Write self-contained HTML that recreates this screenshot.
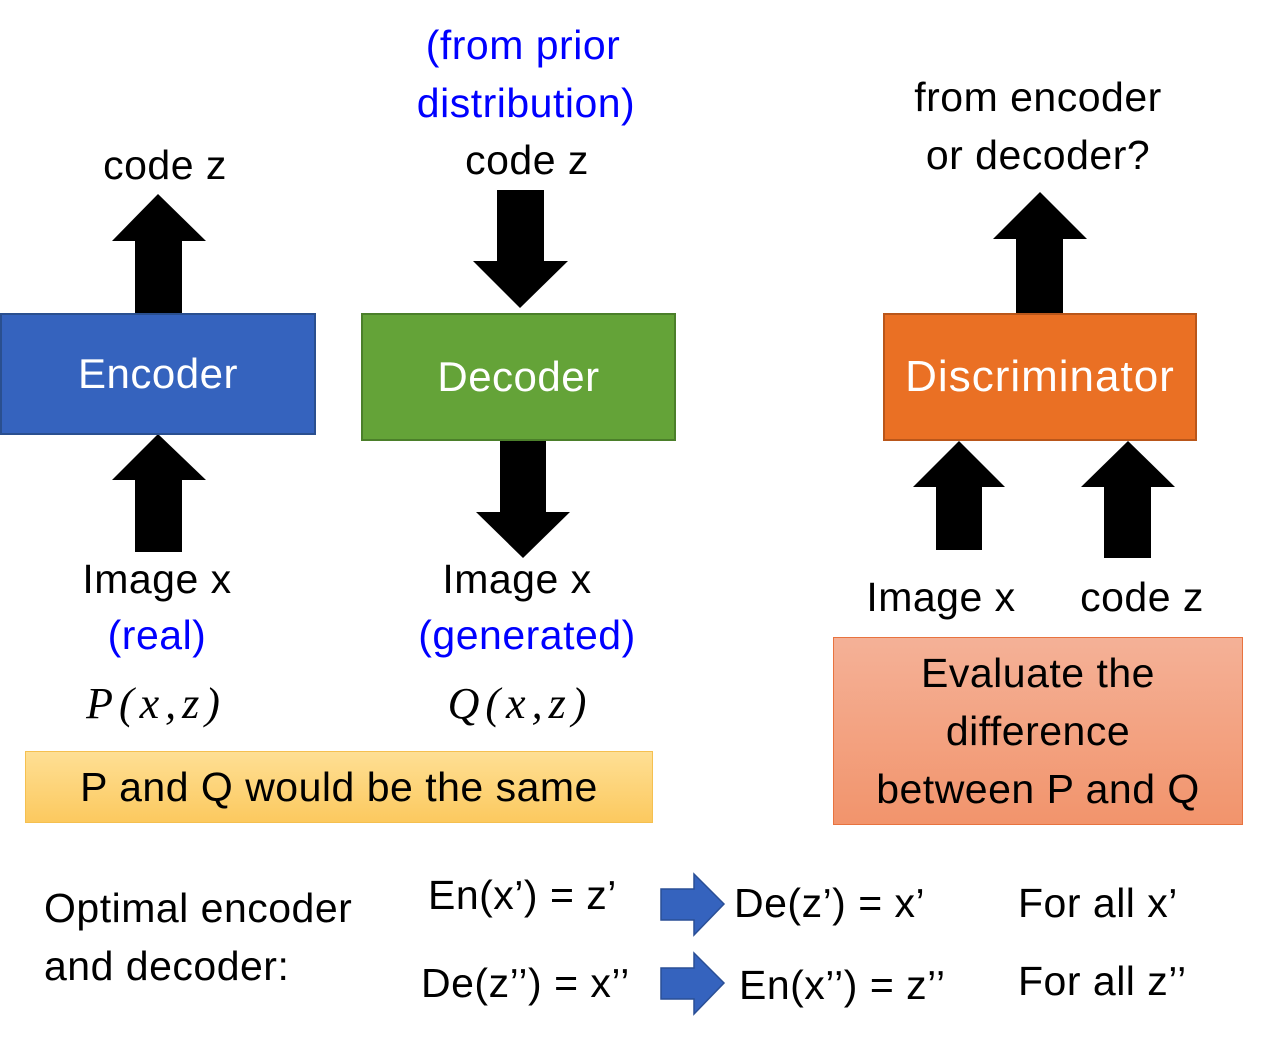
<!DOCTYPE html>
<html><head><meta charset="utf-8"><style>
body{margin:0;width:1284px;height:1042px;background:#fff;position:relative;overflow:hidden;font-family:"Liberation Sans",sans-serif;}
.t{position:absolute;white-space:nowrap;font-size:41px;color:#000;transform:translateX(-50%);line-height:1;letter-spacing:0.5px}
.l{transform:none}
.b{color:#0000ff}
.box{position:absolute;box-sizing:border-box;display:flex;align-items:center;justify-content:center;color:#fff;font-size:42px;letter-spacing:0.5px}
.m{font-family:"Liberation Serif",serif;font-style:italic;font-size:44px;letter-spacing:6px}
</style></head><body>
<svg width="1284" height="1042" style="position:absolute;left:0;top:0">
<g fill="#000">
<polygon points="158,194 206,241 182,241 182,313 135,313 135,241 112,241"/>
<polygon points="158,434 206,480 182,480 182,552 135,552 135,480 112,480"/>
<polygon points="497,190 544,190 544,261 568,261 520,308 473,261 497,261"/>
<polygon points="500,441 546,441 546,512 570,512 523,558 476,512 500,512"/>
<polygon points="1040,192 1087,239 1063,239 1063,313 1016,313 1016,239 993,239"/>
<polygon points="959,441 1005,487 982,487 982,550 936,550 936,487 913,487"/>
<polygon points="1128,441 1175,487 1151,487 1151,558 1104,558 1104,487 1081,487"/>
</g>
<g fill="#3563be" stroke="#2a4f96" stroke-width="1.5">
<polygon points="661,889 694,889 694,874 724,904 694,935 694,920 661,920"/>
<polygon points="661,968 694,968 694,953 724,983 694,1014 694,999 661,999"/>
</g>
</svg>
<div class="box" style="left:0;top:313px;width:316px;height:122px;background:#3563be;border:2px solid #2a4f8f">Encoder</div>
<div class="box" style="left:361px;top:313px;width:315px;height:128px;background:#64a338;border:2px solid #4b7f2a">Decoder</div>
<div class="box" style="left:883px;top:313px;width:314px;height:128px;background:#ea7024;border:2px solid #b9561a;font-size:44px;letter-spacing:1px">Discriminator</div>
<div class="box" style="left:25px;top:751px;width:628px;height:72px;background:linear-gradient(#fedf94,#fcc95f);border:1px solid #f5c050;color:#000;font-size:41px">P and Q would be the same</div>
<div class="box" style="left:833px;top:637px;width:410px;height:188px;background:linear-gradient(#f4b197,#f2946c);border:1px solid #e8733f;color:#000;font-size:41px;line-height:58px;text-align:center">Evaluate the<br>difference<br>between P and Q</div>
<div class="t" style="left:165px;top:145px">code z</div>
<div class="t b" style="left:523px;top:25px">(from prior</div>
<div class="t b" style="left:526px;top:83px">distribution)</div>
<div class="t" style="left:527px;top:140px">code z</div>
<div class="t" style="left:1038px;top:77px">from encoder</div>
<div class="t" style="left:1038px;top:135px">or decoder?</div>
<div class="t" style="left:157px;top:559px">Image x</div>
<div class="t b" style="left:157px;top:615px">(real)</div>
<div class="t m" style="left:156px;top:682px">P(x,z)</div>
<div class="t" style="left:517px;top:559px">Image x</div>
<div class="t b" style="left:527px;top:615px">(generated)</div>
<div class="t m" style="left:520px;top:682px">Q(x,z)</div>
<div class="t" style="left:941px;top:577px">Image x</div>
<div class="t" style="left:1142px;top:577px">code z</div>
<div class="t l" style="left:44px;top:888px">Optimal encoder</div>
<div class="t l" style="left:44px;top:946px">and decoder:</div>
<div class="t l" style="left:428px;top:875px">En(x’) = z’</div>
<div class="t l" style="left:421px;top:963px">De(z’’) = x’’</div>
<div class="t l" style="left:734px;top:883px">De(z’) = x’</div>
<div class="t l" style="left:739px;top:965px">En(x’’) = z’’</div>
<div class="t l" style="left:1018px;top:883px">For all x’</div>
<div class="t l" style="left:1018px;top:961px">For all z’’</div>
</body></html>
